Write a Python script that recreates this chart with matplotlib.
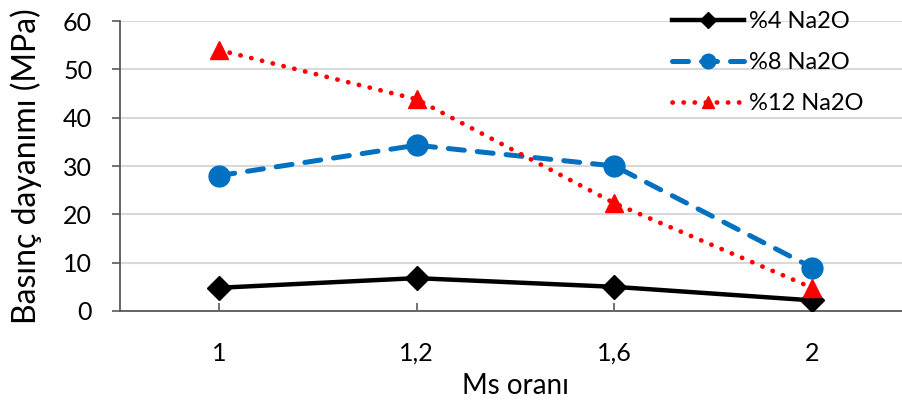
"""
Basınç dayanımı vs Ms oranı for three Na2O contents
"""
import matplotlib
matplotlib.use("Agg")
import matplotlib.pyplot as plt

plt.rcParams['font.family'] = ['Lato', 'DejaVu Sans']

ms_labels = ["1", "1,2", "1,6", "2"]
na4 = [4.8, 6.8, 5.0, 2.2]
na8 = [28.0, 34.3, 30.0, 9.0]
na12 = [54.0, 43.8, 22.3, 4.8]

fig = plt.figure(figsize=(9.03, 4.05), dpi=100)
ax = fig.add_axes([120 / 903, 94 / 405, 791 / 903, 290 / 405])

x = range(len(ms_labels))

ax.plot(x, na4, color="black", lw=3.2, marker="D", ms=12,
        markerfacecolor="black", markeredgecolor="black", label="%4 Na2O", zorder=3)
ax.plot(x, na8, color="#0070C0", lw=3.6, ls=(0, (3.2, 2.6)), dash_capstyle="round",
        marker="o", ms=15, markerfacecolor="#0070C0", markeredgecolor="#0070C0",
        label="%8 Na2O", zorder=4)
ax.plot(x, na12, color="#FF0000", lw=3.4, ls=(0, (0.05, 2.3)), dash_capstyle="round",
        marker="^", ms=13, markerfacecolor="#FF0000", markeredgecolor="#FF0000",
        label="%12 Na2O", zorder=5)

ax.set_xlim(-0.5, 3.5)
ax.set_ylim(0, 60)
ax.set_yticks(range(0, 61, 10))
ax.set_xticks(list(x))
ax.set_xticklabels(ms_labels)

ax.grid(axis="y", color="#D9D9D9", lw=1.5)
ax.set_axisbelow(True)
for side in ["top", "right"]:
    ax.spines[side].set_visible(False)
for side in ["left", "bottom"]:
    ax.spines[side].set_color("#595959")
    ax.spines[side].set_linewidth(1.3)

ax.tick_params(axis="y", direction="out", length=6, width=1.2, color="#595959",
               labelsize=18, pad=14)
ax.tick_params(axis="x", direction="in", length=6, width=1.2, color="#595959",
               labelsize=18, pad=22)

ax.set_ylabel("Basınç dayanımı (MPa)", fontsize=23)
ax.yaxis.set_label_coords(-0.099, 0.5)
ax.set_xlabel("Ms oranı", fontsize=20)
ax.xaxis.set_label_coords(0.5, -0.215)

leg = ax.legend(loc="upper left", bbox_to_anchor=(660 / 903, 1 + 1 / 405),
                bbox_transform=fig.transFigure, frameon=False, fontsize=17,
                handlelength=3.05, handletextpad=0.22, labelspacing=0.85,
                borderpad=0, numpoints=1, markerscale=0.7)

fig.savefig("out.png", dpi=100)
